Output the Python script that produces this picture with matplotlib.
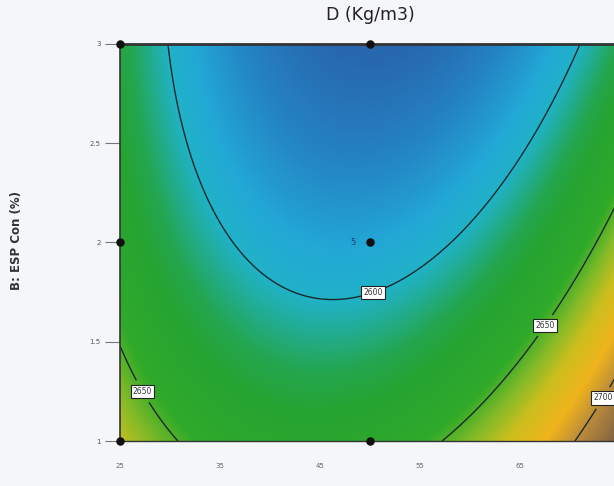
import numpy as np
import matplotlib
matplotlib.use("Agg")
import matplotlib.pyplot as plt
from matplotlib.colors import LinearSegmentedColormap

# Fitted quadratic response surface for D (Kg/m3), coded factors
# a = (A - 50) / 25, b = B - 2
# terms: [const, a, b, ab, a^2, b^2]
coef = [2589.5, 13.26, -38.55, -15.16, 59.2, 8.84]

a_range = [25, 75]          # A factor
b_range = [1, 3]            # B: ESP Con (%)
levels = [2600, 2650, 2700]
level_labels = ["2600", "2650", "2700"]

design_a = [25, 25, 25, 50, 50, 50]
design_b = [1, 2, 3, 1, 2, 3]
center_reps = "5"

xticks = [25, 35, 45, 55, 65]
yticks = [1, 1.5, 2, 2.5, 3]
yticklabels = ["1", "1.5", "2", "2.5", "3"]

VMIN, VMAX = 2560, 2725
def t(v):
    return (v - VMIN) / (VMAX - VMIN)

cmap = LinearSegmentedColormap.from_list("de", [
    (t(2560), "#2866ae"),
    (t(2575), "#2484c4"),
    (t(2590), "#22a8d6"),
    (t(2600), "#20b2c8"),
    (t(2608), "#22ac8c"),
    (t(2616), "#24a650"),
    (t(2626), "#26a432"),
    (t(2646), "#30aa2a"),
    (t(2658), "#84ba28"),
    (t(2670), "#ccbe1e"),
    (t(2686), "#f0b41c"),
    (t(2702), "#b88a3c"),
    (t(2725), "#7a5c42"),
])

A = np.linspace(a_range[0], a_range[1], 300)
B = np.linspace(b_range[0], b_range[1], 300)
AA, BB = np.meshgrid(A, B)
ca = (AA - 50) / 25
cb = BB - 2
D = (coef[0] + coef[1] * ca + coef[2] * cb + coef[3] * ca * cb
     + coef[4] * ca ** 2 + coef[5] * cb ** 2)

fig = plt.figure(figsize=(6.14, 4.86), dpi=100, facecolor="#f5f6fa")
ax = fig.add_axes([120 / 614, 45 / 486, 500 / 614, 397 / 486])

ax.imshow(D, origin="lower", extent=[a_range[0], a_range[1], b_range[0], b_range[1]],
          aspect="auto", cmap=cmap, vmin=VMIN, vmax=VMAX, interpolation="bilinear")
cs = ax.contour(AA, BB, D, levels=levels, colors="#1a2a2a", linewidths=1.0)
fmt = dict(zip(levels, level_labels))
txts = ax.clabel(cs, fmt=fmt, fontsize=5.5, inline=True, inline_spacing=3,
                 manual=[(27.6, 1.26), (50.5, 1.72), (67.0, 1.6), (73.2, 1.22)])
for tx in txts:
    tx.set_rotation(0)
    tx.set_color("#333333")
    tx.set_bbox(dict(boxstyle="square,pad=0.3", fc="white", ec="#222222", lw=0.8))

ax.scatter(design_a, design_b, s=26, color="#111111", zorder=5, clip_on=False)
ax.text(48.6, 2.0, center_reps, fontsize=6, color="#1a3a6a", ha="right", va="center")

ax.set_xlim(a_range)
ax.set_ylim(b_range)
ax.set_xticks(xticks)
ax.set_xticklabels([str(v) for v in xticks])
ax.set_yticks(yticks)
ax.set_yticklabels(yticklabels)
ax.tick_params(axis="x", length=0, pad=16, labelsize=5, labelcolor="#666666")
ax.tick_params(axis="y", length=11, width=0.8, color="#777777", pad=3,
               labelsize=5, labelcolor="#555555")
for side in ["top", "left", "bottom"]:
    ax.spines[side].set_color("#333333")
ax.spines["top"].set_linewidth(2.0)
ax.spines["left"].set_linewidth(1.2)
ax.spines["bottom"].set_linewidth(1.0)
ax.spines["right"].set_visible(False)

ax.set_title("D (Kg/m3)", fontsize=12.5, color="#222222", pad=17)
fig.text(17 / 614, 1 - 240 / 486, "B: ESP Con (%)", rotation=90, fontsize=8.5,
         fontweight="bold", color="#333333", ha="center", va="center")

fig.savefig("out.png", dpi=100, facecolor=fig.get_facecolor())
